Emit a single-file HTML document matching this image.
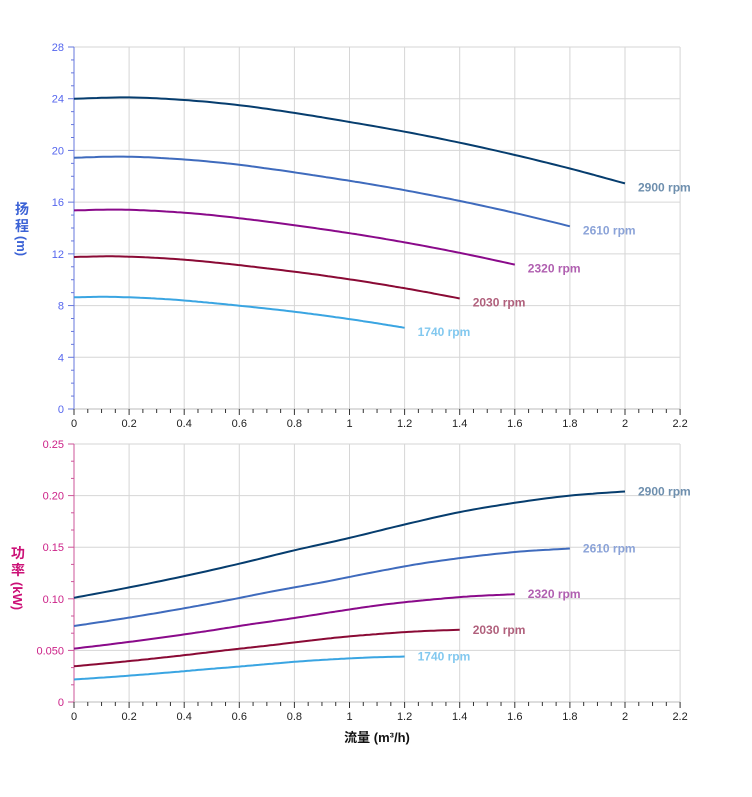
<!DOCTYPE html>
<html><head><meta charset="utf-8"><style>
body{margin:0;background:#fff;}
svg{display:block;font-family:"Liberation Sans","Noto Sans CJK SC",sans-serif;}
</style></head><body>
<svg id="s" width="752" height="797" xmlns="http://www.w3.org/2000/svg"></svg>
<script>
const s=document.getElementById('s');let o='';
const X0=74,XS=275.5;
const xp=q=>X0+q*XS;
function chart(top,bot,ymax,ystep,minorN,fmt,tickCol,lblCol){
  const yp=v=>bot-(v/ymax)*(bot-top);
  for(let q=0;q<=2.2001;q+=0.2){o+=`<line x1="${xp(q)}" y1="${top}" x2="${xp(q)}" y2="${bot}" stroke="#d6d6d6"/>`;}
  for(let v=0;v<=ymax+1e-9;v+=ystep){const y=yp(v);o+=`<line x1="${X0}" y1="${y}" x2="680" y2="${y}" stroke="#d6d6d6"/>`;
    o+=`<line x1="${X0-6}" y1="${y}" x2="${X0}" y2="${y}" stroke="${tickCol}"/>`;
    o+=`<text x="${X0-10}" y="${y+4}" font-size="11" fill="${lblCol}" text-anchor="end">${fmt(v)}</text>`;
    if(v<ymax-1e-9){for(let k=1;k<=minorN;k++){const ym=y-(yp(0)-yp(ystep))*k/(minorN+1);o+=`<line x1="${X0-3}" y1="${ym}" x2="${X0}" y2="${ym}" stroke="${tickCol}"/>`;}}
  }
  o+=`<line x1="${X0}" y1="${top}" x2="${X0}" y2="${bot}" stroke="${tickCol}"/>`;
  o+=`<line x1="${X0}" y1="${bot}" x2="680" y2="${bot}" stroke="#bbb"/>`;
  for(let i=0;i<=44;i++){const x=xp(i*0.05);o+=`<line x1="${x}" y1="${bot}" x2="${x}" y2="${bot+(i%4==0?6:4)}" stroke="#333"/>`;}
  for(let i=0;i<=11;i++){const q=i*0.2;let t=(Math.round(q*10)/10).toString();o+=`<text x="${xp(q)}" y="${bot+18}" font-size="11" fill="#222" text-anchor="middle">${t}</text>`;}
  return yp;
}
const speeds=[[2900,1,'#063d6e','#6e8fae'],[2610,0.9,'#3f6bbd','#8ba3d8'],[2320,0.8,'#8a0a8a','#b05fb0'],[2030,0.7,'#8a0a35','#b0607c'],[1740,0.6,'#3aa5e2','#82c8ef']];
const H=[24.0,24.1,23.9,23.5,22.9,22.2,21.45,20.6,19.65,18.6,17.45];
const P=[0.101,0.111,0.122,0.134,0.147,0.159,0.172,0.184,0.193,0.200,0.204];
function interp(arr,q){let i=Math.min(9,Math.floor(q/0.2+1e-9));const t=(q-i*0.2)/0.2;
  const p1=arr[i],p2=arr[i+1];
  const p0=i>0?arr[i-1]:2*p1-p2;const p3=i+2<=10?arr[i+2]:2*p2-p1;
  return 0.5*((2*p1)+(-p0+p2)*t+(2*p0-5*p1+4*p2-p3)*t*t+(-p0+3*p1-3*p2+p3)*t*t*t);}
function curves(yp,arr,pow,dy){
  speeds.forEach(([n,r,c,lc])=>{let d='';const qe=2*r;let ex,ey;
    for(let k=0;k<=120;k++){const q=qe*k/120;const v=interp(arr,q/r)*Math.pow(r,pow);const x=xp(q),y=yp(v);d+=(k?'L':'M')+x.toFixed(1)+' '+y.toFixed(1);ex=x;ey=y;}
    o+=`<path d="${d}" fill="none" stroke="${c}" stroke-width="2" stroke-linejoin="round"/>`;
    o+=`<text x="${ex+13}" y="${ey+dy}" font-size="12" font-weight="bold" fill="${lc}">${n} rpm</text>`;});
}
let yp1=chart(47,409,28,4,3,v=>v,'#6677dd','#5566ee');
curves(yp1,H,2,8);
let yp2=chart(444,702,0.25,0.05,2,v=>v==0?'0':(Math.abs(v-0.05)<1e-9?'0.050':v.toFixed(2)),'#cc5599','#cc2288');
curves(yp2,P,3,4);
o+=`<text x="22" y="214" font-size="14" font-weight="bold" fill="#3b62d6" text-anchor="middle">扬</text>`;
o+=`<text x="22" y="231" font-size="14" font-weight="bold" fill="#3b62d6" text-anchor="middle">程</text>`;
o+=`<text transform="translate(17,246) rotate(90)" font-size="13" font-weight="bold" fill="#3b62d6" text-anchor="middle">(m)</text>`;
o+=`<text x="18" y="558" font-size="14" font-weight="bold" fill="#cc1177" text-anchor="middle">功</text>`;
o+=`<text x="18" y="575" font-size="14" font-weight="bold" fill="#cc1177" text-anchor="middle">率</text>`;
o+=`<text transform="translate(13,596) rotate(90)" font-size="13" font-weight="bold" fill="#cc1177" text-anchor="middle">(kW)</text>`;
o+=`<text x="377" y="742" font-size="13" font-weight="bold" fill="#111" text-anchor="middle">流量 (m³/h)</text>`;
s.innerHTML=o;
</script>
</body></html>
